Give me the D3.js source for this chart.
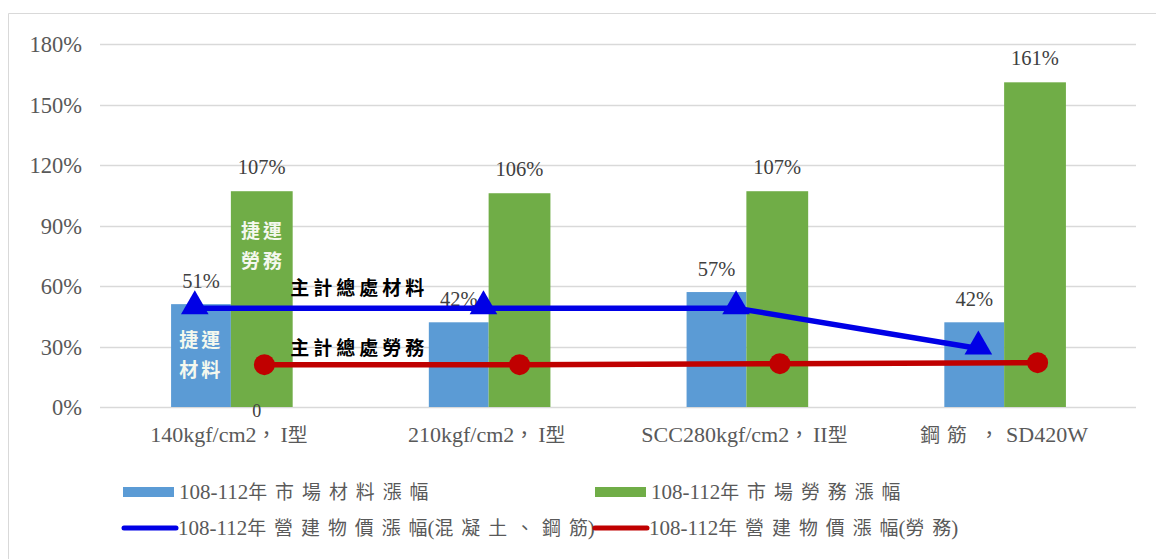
<!DOCTYPE html>
<html>
<head>
<meta charset="utf-8">
<script src="https://cdn.jsdelivr.net/npm/d3@7"></script>
<style>
  html, body { margin: 0; padding: 0; background: #fff; }
  svg { display: block; }
  text { font-family: "Liberation Serif", "Noto Sans CJK TC", serif; }
</style>
</head>
<body>
<svg id="chart" width="1156" height="559"></svg>
<script>
// ---------- data ----------
const categories = ["140kgf/cm2，I型", "210kgf/cm2，I型", "SCC280kgf/cm2，II型", "鋼筋 ，SD420W"];
const materialRise = [0.51, 0.42, 0.57, 0.42];       // 108-112年市場材料漲幅
const laborRise = [1.07, 1.06, 1.07, 1.61];          // 108-112年市場勞務漲幅
const indexMaterial = [0.49, 0.49, 0.49, 0.29];      // 營建物價漲幅(混凝土、鋼筋)
const indexMaterialAt = [-0.14, 0.98, 1.96, 2.9];    // position along category axis (index units)
const indexLabor = [0.21, 0.21, 0.215, 0.22];        // 營建物價漲幅(勞務)
const indexLaborAt = [0.13, 1.12, 2.13, 3.13];
const yTicks = [0, 0.3, 0.6, 0.9, 1.2, 1.5, 1.8];
const seriesNames = ["108-112年市場材料漲幅", "108-112年市場勞務漲幅",
                     "108-112年營建物價漲幅(混凝土、鋼筋)", "108-112年營建物價漲幅(勞務)"];
const materialLabels = ["51%", "42%", "57%", "42%"];
const laborLabels = ["107%", "106%", "107%", "161%"];

// ---------- layout ----------
const svg = d3.select("#chart");
const plot = { left: 102, right: 1133, top: 44, bottom: 407 };
const colors = { mat: "#5b9bd5", lab: "#70ad47", idxMat: "#0000e6", idxLab: "#c00000" };

// frame
svg.append("path").attr("d", "M8.5,559 V13.5 H1156").attr("fill", "none").attr("stroke", "#d9d9d9").attr("stroke-width", 1);

const x = d3.scaleBand().domain(categories).range([plot.left, plot.right]).padding(0);
const xi = d3.scaleLinear().domain([-0.5, categories.length - 0.5]).range([plot.left, plot.right]);
const y = d3.scaleLinear().domain([0, 1.8]).range([plot.bottom, plot.top]);
const barW = x.bandwidth() * 0.232;

// gridlines
svg.append("g")
  .selectAll("line").data(yTicks).join("line")
  .attr("x1", plot.left - 2).attr("x2", plot.right + 3)
  .attr("y1", d => Math.round(y(d)) + 0.5).attr("y2", d => Math.round(y(d)) + 0.5)
  .attr("stroke", "#d9d9d9").attr("stroke-width", 1.3);

// y axis labels
const yAxis = d3.axisLeft(y).tickValues(yTicks).tickFormat(d3.format(".0%")).tickSize(0).tickPadding(0);
const gy = svg.append("g").attr("transform", "translate(82,0)").call(yAxis);
gy.select(".domain").remove();
gy.selectAll("text").attr("font-size", 22.5).attr("fill", "#595959")
  .attr("font-family", "Liberation Serif").attr("dy", "0.34em");

// helpers for mixed CJK / Latin text
function runs(str) {
  const out = [];
  for (const ch of str) {
    const cjk = /[\u3000-\u9fff\uff00-\uffef]/.test(ch);
    if (out.length && out[out.length - 1].cjk === cjk) out[out.length - 1].t += ch;
    else out.push({ t: ch, cjk });
  }
  return out;
}
function spacedText(sel, str, cjkSpacing) {
  const rs = runs(str);
  rs.forEach((r, k) => {
    if (r.cjk && cjkSpacing > 0 && k < rs.length - 1 && r.t.length > 0) {
      // spacing between CJK chars, none after last one of the run
      const chars = Array.from(r.t);
      sel.append("tspan").text(chars.slice(0, -1).join(""))
        .attr("letter-spacing", cjkSpacing).attr("font-family", "Noto Sans CJK TC").attr("font-size", "0.9em");
      sel.append("tspan").text(chars[chars.length - 1])
        .attr("letter-spacing", 0).attr("font-family", "Noto Sans CJK TC").attr("font-size", "0.9em");
    } else {
      sel.append("tspan").text(r.t)
        .attr("letter-spacing", r.cjk ? cjkSpacing : 0)
        .attr("font-family", r.cjk ? "Noto Sans CJK TC" : "Liberation Serif")
        .attr("font-size", r.cjk ? "0.9em" : "1em");
    }
  });
}

// x axis labels
const xAxis = d3.axisBottom(x).tickSize(0).tickPadding(0);
const gx = svg.append("g").attr("transform", `translate(0,${plot.bottom})`).call(xAxis);
gx.select(".domain").remove();
gx.selectAll("text").each(function (d) {
  const t = d3.select(this);
  t.text(null).attr("y", 35).attr("dy", null).attr("font-size", 22).attr("fill", "#595959")
    .attr("text-anchor", "middle");
  runs(d).forEach(r => {
    t.append("tspan").text(r.t)
      .attr("font-family", r.cjk ? "Noto Sans CJK TC" : "Liberation Serif")
      .attr("font-size", r.cjk ? "0.9em" : "1em")
      .attr("letter-spacing", r.cjk ? (d.startsWith("鋼") ? 7 : 4) : 0);
  });
});

// bars
svg.append("g").selectAll("rect").data(materialRise).join("rect")
  .attr("x", (d, i) => x(categories[i]) + x.bandwidth() / 2 - barW)
  .attr("y", d => y(d)).attr("width", barW).attr("height", d => y(0) - y(d))
  .attr("fill", colors.mat);
svg.append("g").selectAll("rect").data(laborRise).join("rect")
  .attr("x", (d, i) => x(categories[i]) + x.bandwidth() / 2)
  .attr("y", d => y(d)).attr("width", barW + 2).attr("height", d => y(0) - y(d))
  .attr("fill", colors.lab);

// bar labels
svg.append("g").selectAll("text").data(materialRise).join("text")
  .attr("x", (d, i) => x(categories[i]) + x.bandwidth() / 2 - barW / 2)
  .attr("y", d => y(d) - 16).attr("text-anchor", "middle")
  .attr("font-size", 20.5).attr("fill", "#404040").text((d, i) => materialLabels[i]);
svg.append("g").selectAll("text").data(laborRise).join("text")
  .attr("x", (d, i) => x(categories[i]) + x.bandwidth() / 2 + barW / 2 + 1)
  .attr("y", d => y(d) - 17).attr("text-anchor", "middle")
  .attr("font-size", 20.5).attr("fill", "#404040").text((d, i) => laborLabels[i]);

// lines
const matPts = indexMaterial.map((v, i) => [xi(indexMaterialAt[i]), y(v)]);
const labPts = indexLabor.map((v, i) => [xi(indexLaborAt[i]), y(v)]);
const line = d3.line();
svg.append("path").attr("d", line(labPts)).attr("fill", "none")
  .attr("stroke", colors.idxLab).attr("stroke-width", 5.5);
svg.append("g").selectAll("circle").data(labPts).join("circle")
  .attr("cx", d => d[0]).attr("cy", d => d[1]).attr("r", 10.5).attr("fill", colors.idxLab);
svg.append("path").attr("d", line(matPts)).attr("fill", "none")
  .attr("stroke", colors.idxMat).attr("stroke-width", 5.5);
const tri = d3.symbol().type(d3.symbolTriangle).size(330);
svg.append("g").selectAll("path").data(matPts).join("path")
  .attr("transform", d => `translate(${d[0]},${d[1] - 2})`).attr("d", tri).attr("fill", colors.idxMat);

// "0" label
svg.append("text").attr("x", xi(0.1)).attr("y", y(0) + 10).attr("text-anchor", "middle")
  .attr("font-size", 18).attr("fill", "#404040").text("0");

// annotations
const annoWhite = [
  { lines: ["捷運", "勞務"], cx: xi(0.125), top: 0.84 },
  { lines: ["捷運", "材料"], cx: xi(-0.115), top: 0.30 }
];
annoWhite.forEach(a => {
  a.lines.forEach((s, k) => {
    svg.append("text").attr("x", a.cx).attr("y", y(a.top) + k * 30)
      .attr("text-anchor", "middle").attr("font-family", "Noto Sans CJK TC")
      .attr("font-weight", "bold").attr("font-size", 19).attr("letter-spacing", 3)
      .attr("fill", "#f4f8ee").text(s);
  });
});
const annoBlack = [
  { text: "主計總處材料", at: 0.23, v: 0.555 },
  { text: "主計總處勞務", at: 0.23, v: 0.258 }
];
annoBlack.forEach(a => {
  svg.append("text").attr("x", xi(a.at)).attr("y", y(a.v))
    .attr("font-family", "Noto Sans CJK TC").attr("font-weight", "bold")
    .attr("font-size", 19).attr("letter-spacing", 4).attr("fill", "#000").text(a.text);
});

// legend
const legendItems = [
  { name: seriesNames[0], kind: "rect", color: colors.mat, lx: 123, ly: 492 },
  { name: seriesNames[1], kind: "rect", color: colors.lab, lx: 595, ly: 492 },
  { name: seriesNames[2], kind: "line", color: colors.idxMat, lx: 122, ly: 528 },
  { name: seriesNames[3], kind: "line", color: colors.idxLab, lx: 593, ly: 528 }
];
const lg = svg.append("g");
legendItems.forEach(it => {
  if (it.kind === "rect") {
    lg.append("rect").attr("x", it.lx).attr("y", it.ly - 5).attr("width", 51).attr("height", 10).attr("fill", it.color);
  } else {
    lg.append("line").attr("x1", it.lx + 2).attr("x2", it.lx + 54).attr("y1", it.ly).attr("y2", it.ly)
      .attr("stroke", it.color).attr("stroke-width", 5).attr("stroke-linecap", "round");
  }
  const t = lg.append("text").attr("x", it.lx + 56).attr("y", it.ly + 7)
    .attr("font-size", 21).attr("fill", "#595959");
  spacedText(t, it.name, 8);
});
</script>
</body>
</html>
